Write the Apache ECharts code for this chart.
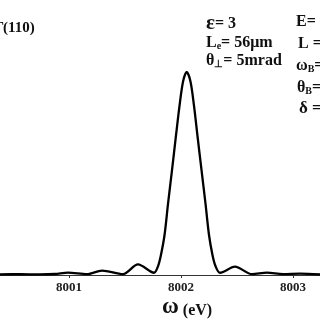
<!DOCTYPE html>
<html>
<head>
<meta charset="utf-8">
<script src="https://cdn.jsdelivr.net/npm/echarts@6/dist/echarts.min.js"></script>
<style>
  html, body { margin: 0; padding: 0; background: #fff; }
  #chart-area { width: 320px; height: 320px; }
</style>
</head>
<body>
<div id="chart-area"></div>
<script>
// photon energy (eV) and relative intensity
var omega = [8000.384, 8000.563, 8000.741, 8000.875, 8000.991, 8001.161, 8001.295,
  8001.482, 8001.616, 8001.759, 8001.795, 8001.821, 8001.853, 8001.884, 8001.920,
  8001.955, 8001.987, 8002.018, 8002.051, 8002.085, 8002.116, 8002.147, 8002.183,
  8002.219, 8002.250, 8002.281, 8002.308, 8002.348, 8002.482, 8002.634, 8002.768,
  8002.911, 8003.063, 8003.241];
var intensity = [0.003, 0.004, 0.003, 0.005, 0.012, 0.004, 0.022,
  0.004, 0.052, 0.011, 0.044, 0.099, 0.197, 0.350, 0.518,
  0.686, 0.834, 0.952, 1.0, 0.952, 0.834, 0.686, 0.518,
  0.350, 0.197, 0.099, 0.044, 0.011, 0.041, 0.004, 0.012,
  0.004, 0.007, 0.003];
var tickValues = [8001, 8002, 8003];
var xRange = [8000.384, 8003.241];

var serif = '"Liberation Serif", "Times New Roman", serif';

var points = omega.map(function (w, i) { return [w, intensity[i]]; });

var myChart = echarts.init(document.getElementById("chart-area"));

var txt = { fontFamily: serif, fontWeight: 'bold', fill: '#111' };

// normal size + subscript pieces for the rich labels
var richSub = {
  m: { fontSize: 16, fontFamily: serif, fontWeight: 'bold', verticalAlign: 'bottom' },
  s: { fontSize: 10, fontFamily: serif, fontWeight: 'bold', verticalAlign: 'bottom' }
};

myChart.setOption({
  animation: false,
  grid: { left: 0, right: 0, top: 72, bottom: 45 },
  xAxis: {
    type: 'value',
    min: xRange[0],
    max: xRange[1],
    splitLine: { show: false },
    axisLine: { lineStyle: { color: '#333', width: 1 } },
    axisTick: { customValues: tickValues, length: 3, lineStyle: { color: '#333' } },
    axisLabel: {
      customValues: tickValues,
      margin: 6,
      color: '#222',
      fontFamily: serif,
      fontWeight: 'bold',
      fontSize: 13,
      formatter: function (v) { return String(v); }
    }
  },
  yAxis: { type: 'value', min: 0, max: 1, show: false },
  series: [{
    type: 'line',
    data: points,
    smooth: 0.3,
    symbol: 'none',
    lineStyle: { color: '#000', width: 2.3 }
  }],
  graphic: [
    // panel label, partly cut at the left edge
    { type: 'text', right: 316, top: 21, style: Object.assign({ text: 'Γ', fontSize: 15 }, txt) },
    { type: 'text', left: 3, top: 21, style: Object.assign({ text: '(110)', fontSize: 15 }, txt) },
    // parameters, middle column
    { type: 'text', left: 206, top: 13, style: Object.assign({
      text: '{a|ε}{m|= 3}',
      rich: { a: { fontSize: 21, fontFamily: serif, fontWeight: 'bold' }, m: { fontSize: 16, fontFamily: serif, fontWeight: 'bold' } }
    }, txt) },
    { type: 'text', left: 206, top: 35, style: Object.assign({ text: '{m|L}{s|e}{m|= 56μm}', rich: richSub }, txt) },
    { type: 'text', left: 206, top: 53, style: Object.assign({ text: '{m|θ}{s|⊥}{m|= 5mrad}', rich: richSub }, txt) },
    // right column, cut at the edge
    { type: 'text', left: 296, top: 14, style: Object.assign({ text: 'E=', fontSize: 16 }, txt) },
    { type: 'text', left: 298, top: 36, style: Object.assign({ text: 'L =', fontSize: 16 }, txt) },
    { type: 'text', left: 296, top: 58, style: Object.assign({ text: '{m|ω}{s|B}{m|=}', rich: richSub }, txt) },
    { type: 'text', left: 297, top: 80, style: Object.assign({ text: '{m|θ}{s|B}{m|=}', rich: richSub }, txt) },
    { type: 'text', left: 299, top: 100, style: Object.assign({ text: 'δ =', fontSize: 17 }, txt) },
    // x axis title
    { type: 'text', left: 162, top: 296, style: Object.assign({
      text: '{w|ω}{m| (eV)}',
      rich: {
        w: { fontSize: 23, fontFamily: serif, fontWeight: 'bold', verticalAlign: 'bottom' },
        m: { fontSize: 16, fontFamily: serif, fontWeight: 'bold', verticalAlign: 'bottom' }
      }
    }, txt) }
  ]
});
</script>
</body>
</html>
